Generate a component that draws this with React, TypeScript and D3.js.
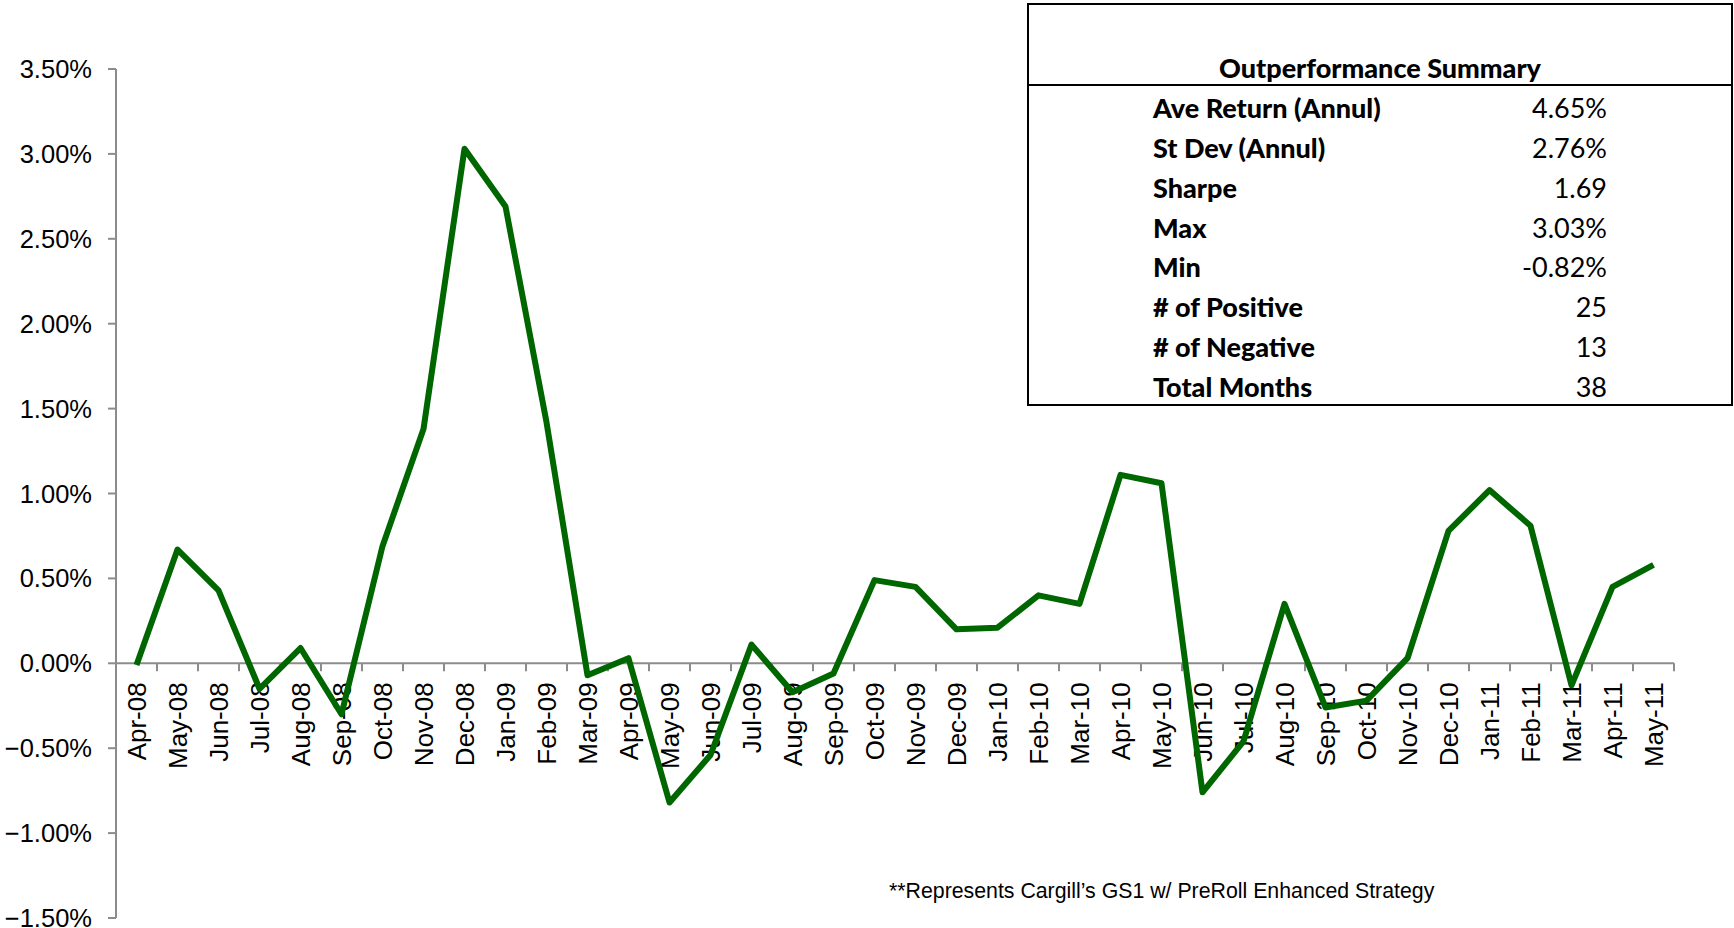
import React from 'react';
import * as d3 from 'd3';

// monthly outperformance, in percent
const months = [
  'Apr-08', 'May-08', 'Jun-08', 'Jul-08', 'Aug-08', 'Sep-08', 'Oct-08', 'Nov-08', 'Dec-08', 'Jan-09',
  'Feb-09', 'Mar-09', 'Apr-09', 'May-09', 'Jun-09', 'Jul-09', 'Aug-09', 'Sep-09', 'Oct-09', 'Nov-09',
  'Dec-09', 'Jan-10', 'Feb-10', 'Mar-10', 'Apr-10', 'May-10', 'Jun-10', 'Jul-10', 'Aug-10', 'Sep-10',
  'Oct-10', 'Nov-10', 'Dec-10', 'Jan-11', 'Feb-11', 'Mar-11', 'Apr-11', 'May-11',
];
const outperformance = [
  -0.01, 0.67, 0.43, -0.15, 0.09, -0.30, 0.69, 1.38, 3.03, 2.69,
  1.42, -0.07, 0.03, -0.82, -0.54, 0.11, -0.17, -0.06, 0.49, 0.45,
  0.20, 0.21, 0.40, 0.35, 1.11, 1.06, -0.76, -0.46, 0.35, -0.26,
  -0.22, 0.03, 0.78, 1.02, 0.81, -0.13, 0.45, 0.58,
];
const yTicks = [-1.5, -1.0, -0.5, 0, 0.5, 1.0, 1.5, 2.0, 2.5, 3.0, 3.5];

const summaryTitle = 'Outperformance Summary';
const summaryLabels = ['Ave Return (Annul)', 'St Dev (Annul)', 'Sharpe', 'Max', 'Min', '# of Positive', '# of Negative', 'Total Months'];
const summaryValues = ['4.65%', '2.76%', '1.69', '3.03%', '-0.82%', '25', '13', '38'];
const footnote = '**Represents Cargill\u2019s GS1 w/ PreRoll Enhanced Strategy';

const W = 1734;
const H = 928;
const plot = { left: 116, right: 1674, top: 69, bottom: 918 };
const box = { x: 1028, y: 4, w: 704, h: 401, headerY: 85 };

const axisColor = '#8c8c8c';
const lineColor = '#006600';
const arial = '"Liberation Sans", Arial, sans-serif';
const calibriLike = 'Lato, "Open Sans", sans-serif';

export default function App() {
  const x = d3.scaleBand<string>().domain(months).range([plot.left, plot.right]);
  const y = d3.scaleLinear().domain([-1.5, 3.5]).range([plot.bottom, plot.top]);
  const fmt = d3.format('.2f');

  const line = d3.line<number>()
    .x((d, i) => x(months[i])! + x.bandwidth() / 2)
    .y(d => y(d));

  const tickXs = months.map(m => x(m)!).concat([plot.right]);
  const rowY = d3.scalePoint<string>().domain(summaryLabels).range([118, 397]);

  return (
    <svg width={W} height={H} style={{ position: 'absolute', left: 0, top: 0, display: 'block', background: '#fff' }}>
      {/* y axis */}
      <line x1={plot.left} x2={plot.left} y1={plot.top} y2={plot.bottom} stroke={axisColor} strokeWidth={2} />
      {yTicks.map(t => (
        <g key={t}>
          <line x1={plot.left - 8} x2={plot.left} y1={y(t)} y2={y(t)} stroke={axisColor} strokeWidth={2} />
          <text x={92} y={y(t)} textAnchor="end" dominantBaseline="central" fontFamily={arial} fontSize={25.5} fill="#000">
            {fmt(t) + '%'}
          </text>
        </g>
      ))}

      {/* x axis at zero */}
      <line x1={plot.left} x2={plot.right} y1={y(0)} y2={y(0)} stroke={axisColor} strokeWidth={2} />
      {tickXs.map((tx, i) => (
        <line key={i} x1={tx} x2={tx} y1={y(0)} y2={y(0) + 8} stroke={axisColor} strokeWidth={2} />
      ))}
      {months.map(m => {
        const cx = x(m)! + x.bandwidth() / 2;
        const ty = y(0) + 19;
        return (
          <text key={m} transform={`translate(${cx},${ty}) rotate(-90)`} textAnchor="end" dominantBaseline="central"
            fontFamily={arial} fontSize={26} fill="#000">
            {m}
          </text>
        );
      })}

      {/* series */}
      <path d={line(outperformance)!} fill="none" stroke={lineColor} strokeWidth={6} strokeLinejoin="round" />

      {/* summary table */}
      <rect x={box.x} y={box.y} width={box.w} height={box.h} fill="#fff" stroke="#000" strokeWidth={2} />
      <line x1={box.x} x2={box.x + box.w} y1={box.headerY} y2={box.headerY} stroke="#000" strokeWidth={2} />
      <text x={box.x + box.w / 2} y={78} textAnchor="middle" fontFamily={calibriLike} fontWeight={900} fontSize={27} fill="#000">
        {summaryTitle}
      </text>
      {summaryLabels.map((lab, i) => (
        <g key={lab}>
          <text x={1153} y={rowY(lab)} fontFamily={calibriLike} fontWeight={900} fontSize={27} fill="#000">{lab}</text>
          <text x={1607} y={rowY(lab)} textAnchor="end" fontFamily={calibriLike} fontSize={27} fill="#000">{summaryValues[i]}</text>
        </g>
      ))}

      {/* footnote */}
      <text x={889} y={898} fontFamily={arial} fontSize={21.3} fill="#000">{footnote}</text>
    </svg>
  );
}
